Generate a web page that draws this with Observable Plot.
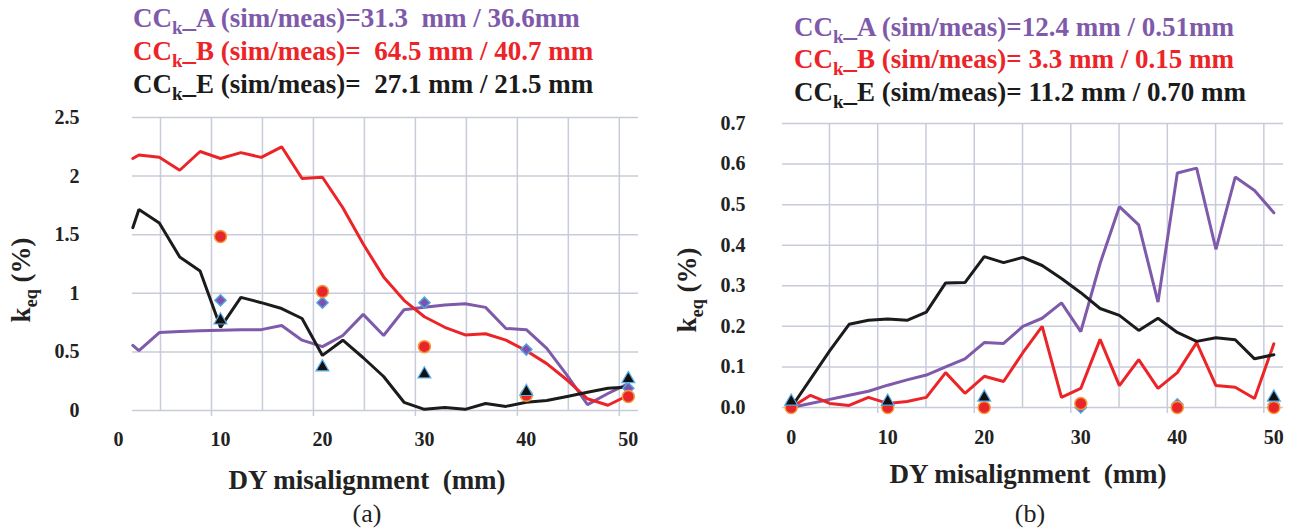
<!DOCTYPE html>
<html><head><meta charset="utf-8">
<script src="https://cdn.jsdelivr.net/npm/d3@7"></script>
<script src="https://cdn.jsdelivr.net/npm/@observablehq/plot@0.6"></script>
<style>
  html,body{margin:0;padding:0;background:#fff;}
  body{width:1296px;height:531px;position:relative;overflow:hidden;font-family:"Liberation Serif","Times New Roman",serif;}
  .chart{position:absolute;}
  #overlay{position:absolute;left:0;top:0;pointer-events:none;}
  #overlay text{white-space:pre;font-family:"Liberation Serif","Times New Roman",serif;}
</style>
</head><body>
<div id="left" class="chart" style="left:0;top:100px"></div>
<div id="right" class="chart" style="left:648px;top:100px"></div>
<script>
// ---------- data: panel (a) ----------
const xSimA = [1.4, 2, 4, 6, 8, 10, 12, 14, 16, 18, 20, 22, 24, 26, 28, 30, 32, 34, 36, 38, 40, 42, 44, 46, 48, 50];
const simA_a = [0.555, 0.51, 0.665, 0.675, 0.68, 0.685, 0.69, 0.69, 0.725, 0.6, 0.545, 0.64, 0.82, 0.64, 0.86, 0.88, 0.9, 0.91, 0.88, 0.70, 0.69, 0.53, 0.30, 0.05, 0.145, 0.23];
const simB_a = [2.15, 2.18, 2.16, 2.05, 2.21, 2.15, 2.2, 2.16, 2.25, 1.98, 1.99, 1.73, 1.42, 1.14, 0.94, 0.8, 0.71, 0.645, 0.655, 0.6, 0.51, 0.40, 0.26, 0.1, 0.045, 0.13];
const simE_a = [1.56, 1.715, 1.6, 1.31, 1.19, 0.71, 0.965, 0.92, 0.87, 0.785, 0.47, 0.6, 0.45, 0.29, 0.07, 0.01, 0.025, 0.01, 0.06, 0.035, 0.07, 0.085, 0.12, 0.155, 0.19, 0.2];
const xMeasA = [10, 20, 30, 40, 50];
const measA_a = [0.94, 0.92, 0.92, 0.52, 0.19];
const measB_a = [1.485, 1.015, 0.545, 0.13, 0.12];
const measE_a = [0.77, 0.37, 0.31, 0.16, 0.27];
const yTicksA = [0, 0.5, 1, 1.5, 2, 2.5];

// ---------- data: panel (b) ----------
const xSimB = [0, 2, 4, 6, 8, 10, 12, 14, 16, 18, 20, 22, 24, 26, 28, 30, 32, 34, 36, 38, 40, 42, 44, 46, 48, 50];
const simA_b = [0, 0.01, 0.02, 0.03, 0.04, 0.055, 0.068, 0.08, 0.1, 0.12, 0.16, 0.158, 0.2, 0.22, 0.258, 0.187, 0.355, 0.495, 0.45, 0.26, 0.578, 0.59, 0.39, 0.568, 0.535, 0.48];
const simB_b = [0, 0.03, 0.01, 0.005, 0.025, 0.01, 0.015, 0.025, 0.086, 0.035, 0.077, 0.064, 0.135, 0.2, 0.025, 0.047, 0.168, 0.054, 0.118, 0.047, 0.086, 0.16, 0.054, 0.05, 0.022, 0.157];
const simE_b = [0, 0.07, 0.14, 0.205, 0.215, 0.218, 0.215, 0.235, 0.307, 0.308, 0.372, 0.357, 0.37, 0.35, 0.318, 0.283, 0.244, 0.227, 0.19, 0.22, 0.185, 0.163, 0.172, 0.167, 0.12, 0.13];
const xMeasB = [0, 10, 20, 30, 40, 50];
const measA_b = [0.005, 0.005, 0.0, 0.0, 0.008, 0.008];
const measB_b = [0, 0, 0, 0.01, 0, 0];
const measE_b = [0.015, 0.015, 0.025, null, null, 0.025];
const yTicksB = [0, 0.1, 0.2, 0.3, 0.4, 0.5, 0.6, 0.7];

// ---------- shared tick labels / texts ----------
const xLabels = [0, 10, 20, 30, 40, 50];
const gridXTicks = [5, 10, 15, 20, 25, 30, 35, 40, 45, 50];
const tickMarkX = [10, 20, 30, 40, 50];
const seriesNames = ["A", "B", "E"];
const titleA = ["=31.3  mm / 36.6mm", "=  64.5 mm / 40.7 mm", "=  27.1 mm / 21.5 mm"];
const titleB = ["=12.4 mm / 0.51mm", "= 3.3 mm / 0.15 mm", "= 11.2 mm / 0.70 mm"];
const xTitle = "DY misalignment  (mm)";
const panelLabels = ["(a)", "(b)"];

const PURPLE = "#7f5aaa", RED = "#ec2428", BLACK = "#1b1b1b";
const GRID = "#c8ccda";
const FONT = '"Liberation Serif","Times New Roman",serif';

function makeChart(c) {
  return Plot.plot({
    width: c.width, height: c.height,
    marginLeft: c.ml, marginRight: c.mr, marginTop: c.mt, marginBottom: c.mb,
    style: {fontFamily: FONT, fontWeight: "bold", fontSize: "20px", color: "#222", background: "transparent", overflow: "visible"},
    x: {domain: c.xDomain},
    y: {domain: c.yDomain},
    marks: [
      Plot.gridY(c.yTicks, {stroke: GRID, strokeOpacity: 1, strokeWidth: 1.5}),
      Plot.gridX(gridXTicks, {stroke: GRID, strokeOpacity: 1, strokeWidth: 1.5, dx: c.gridDx}),
      Plot.axisX(tickMarkX, {anchor: "bottom", tickSize: 6, dx: c.gridDx, stroke: GRID, strokeOpacity: 1, strokeWidth: 1.5, tickFormat: () => "", label: null}),
      Plot.axisX(xLabels, {anchor: "bottom", tickSize: 0, tickPadding: c.xPad, label: null, fontSize: 20, fill: "#222"}),
      Plot.axisY(c.yTicks, {anchor: "left", tickSize: 0, tickPadding: c.yPad, dx: c.yDx, tickFormat: c.yFormat, label: null, fontSize: 20, fill: "#222"}),
      Plot.line(c.simA, {x: c.xSim, y: c.simA, stroke: PURPLE, strokeWidth: 3, strokeLinejoin: "miter"}),
      Plot.line(c.simB, {x: c.xSim, y: c.simB, stroke: RED, strokeWidth: 3, strokeLinejoin: "miter"}),
      Plot.line(c.simE, {x: c.xSim, y: c.simE, stroke: BLACK, strokeWidth: 3, strokeLinejoin: "miter"}),
      Plot.dot(c.measA, {x: c.xMeas, y: c.measA, symbol: "diamond2", r: 5, fill: "#8050b0", stroke: "#4ea5e0", strokeWidth: 1.5}),
      Plot.dot(c.measB, {x: c.xMeas, y: c.measB, symbol: "circle", r: 6, fill: "#e8262a", stroke: "#f39a3c", strokeWidth: 1.5}),
      Plot.dot(c.measE, {x: c.xMeas, y: c.measE, symbol: "triangle", r: 4.8, fill: "#111", stroke: "#5aaee6", strokeWidth: 1.2})
    ]
  });
}

document.getElementById("left").appendChild(makeChart({
  width: 648, height: 340, ml: 132, mr: 10, mt: 17, mb: 30,
  xDomain: [1.37, 51.0], yDomain: [0, 2.5], yTicks: yTicksA, yFormat: d => String(d),
  gridDx: -9, xPad: 21, yPad: 44, yDx: -9,
  xSim: xSimA, simA: simA_a, simB: simB_a, simE: simE_a,
  xMeas: xMeasA, measA: measA_a, measB: measB_a, measE: measE_a
}));

document.getElementById("right").appendChild(makeChart({
  width: 648, height: 340, ml: 134, mr: 13, mt: 23, mb: 33,
  xDomain: [-0.9, 51.0], yDomain: [0, 0.7], yTicks: yTicksB, yFormat: d3.format(".1f"),
  gridDx: -10, xPad: 22, yPad: 35, yDx: -2,
  xSim: xSimB, simA: simA_b, simB: simB_b, simE: simE_b,
  xMeas: xMeasB, measA: measA_b, measB: measB_b, measE: measE_b
}));

// ---------- overlay texts ----------
const svg = d3.select("body").append("svg").attr("id", "overlay").attr("width", 1296).attr("height", 531);
const colors = [PURPLE, RED, BLACK];

function titleBlock(x, baselines, values) {
  values.forEach((v, i) => {
    const t = svg.append("text").attr("x", x).attr("y", baselines[i])
      .attr("font-size", 27).attr("font-weight", "bold").attr("fill", colors[i]);
    t.append("tspan").text("CC");
    t.append("tspan").attr("dy", 7).attr("font-size", 19).text("k");
    t.append("tspan").attr("dy", -7).text("_" + seriesNames[i] + " (sim/meas)" + v);
  });
}
titleBlock(133, [27, 60, 93], titleA);
titleBlock(794, [36, 68, 101], titleB);

function yTitle(cx, cy) {
  const t = svg.append("text").attr("transform", `translate(${cx},${cy}) rotate(-90)`)
    .attr("text-anchor", "middle").attr("font-size", 27).attr("font-weight", "bold").attr("fill", "#222");
  t.append("tspan").text("k");
  t.append("tspan").attr("dy", 7).attr("font-size", 18).text("eq");
  t.append("tspan").attr("dy", -7).text(" (%)");
}
yTitle(30, 280);
yTitle(696, 290);

function xTitleAt(cx, y) {
  svg.append("text").attr("x", cx).attr("y", y).attr("text-anchor", "middle")
    .attr("font-size", 27).attr("font-weight", "bold").attr("fill", "#222").text(xTitle);
}
xTitleAt(367, 489);
xTitleAt(1028, 483);

svg.append("text").attr("x", 367).attr("y", 522).attr("text-anchor", "middle").attr("font-size", 26).attr("fill", "#222").text(panelLabels[0]);
svg.append("text").attr("x", 1030).attr("y", 522).attr("text-anchor", "middle").attr("font-size", 26).attr("fill", "#222").text(panelLabels[1]);
</script>
</body></html>
